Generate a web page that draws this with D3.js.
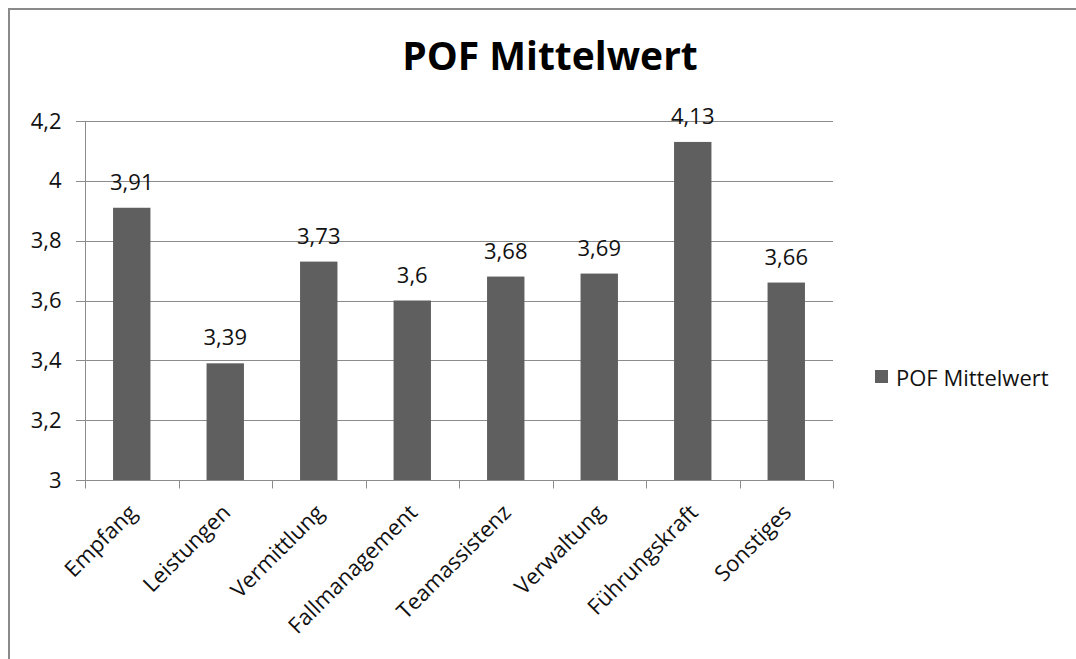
<!DOCTYPE html>
<html><head><meta charset="utf-8">
<script src="https://cdn.jsdelivr.net/npm/d3@7"></script>
<style>body{margin:0;background:#fff}svg{display:block}text{font-family:"Open Sans",sans-serif}</style>
</head><body><svg id="c" width="1076" height="659"></svg>
<script>
const categories = ["Empfang","Leistungen","Vermittlung","Fallmanagement","Teamassistenz","Verwaltung","Führungskraft","Sonstiges"];
const values = [3.91,3.39,3.73,3.6,3.68,3.69,4.13,3.66];
const yTicks = [3,3.2,3.4,3.6,3.8,4,4.2];
const seriesName = "POF Mittelwert";
const title = "POF Mittelwert";

const svg = d3.select("#c");
const fmt = v => String(v).replace(".", ",");
const FS = 22;
// outer border
svg.append("path").attr("d","M9,659 V9 H1076").attr("fill","none").attr("stroke","#8a8a8a").attr("stroke-width",2);

const x = d3.scaleBand().domain(categories).range([85,833]).paddingInner(0.6).paddingOuter(0.3);
const y = d3.scaleLinear().domain([3,4.2]).range([480,121]);

// gridlines
svg.append("g").selectAll("line").data(yTicks).join("line")
  .attr("x1",76).attr("x2",833).attr("y1",d=>Math.round(y(d))+0.5).attr("y2",d=>Math.round(y(d))+0.5)
  .attr("stroke","#8c8c8c").attr("stroke-width",1);
// y axis
const ya = svg.append("g").attr("transform","translate(85.5,0)").call(d3.axisLeft(y).tickValues(yTicks).tickSize(0).tickPadding(24).tickFormat(fmt));
ya.select(".domain").attr("stroke","#8c8c8c").attr("d","M0,121V480");
ya.selectAll("text").attr("font-size",FS).attr("fill","#111").attr("font-family","Open Sans,sans-serif");
// x axis
const step = x.step();
const xa = svg.append("g").attr("transform","translate(0,480.5)");
xa.append("line").attr("x1",85).attr("x2",833).attr("stroke","#8c8c8c");
xa.selectAll("line.t").data(d3.range(categories.length+1)).join("line").attr("class","t")
  .attr("x1",i=>Math.round(85+i*step)+0.5).attr("x2",i=>Math.round(85+i*step)+0.5).attr("y1",0).attr("y2",8).attr("stroke","#8c8c8c");
xa.selectAll("text").data(categories).join("text")
  .attr("transform",d=>`translate(${x(d)+x.bandwidth()/2+1},${28}) rotate(-45)`)
  .attr("text-anchor","end").attr("dy","0.35em").attr("font-size",FS).attr("fill","#111").text(d=>d);

// bars
svg.append("g").selectAll("rect").data(values).join("rect")
  .attr("x",(d,i)=>x(categories[i])).attr("width",x.bandwidth())
  .attr("y",d=>y(d)).attr("height",d=>y(3)-y(d)).attr("fill","#5f5f5f");
// labels
svg.append("g").selectAll("text").data(values).join("text")
  .attr("x",(d,i)=>x(categories[i])+x.bandwidth()/2).attr("y",d=>y(d)-18)
  .attr("text-anchor","middle").attr("font-size",FS).attr("fill","#111").text(fmt);

// title
svg.append("text").attr("x",550).attr("y",70).attr("text-anchor","middle").attr("font-size",39).attr("font-weight","bold").attr("fill","#000").text(title);

// legend
svg.append("rect").attr("x",875).attr("y",370).attr("width",13).attr("height",13).attr("fill","#5f5f5f");
svg.append("text").attr("x",896).attr("y",386).attr("font-size",FS).attr("fill","#111").text(seriesName);
</script></body></html>
